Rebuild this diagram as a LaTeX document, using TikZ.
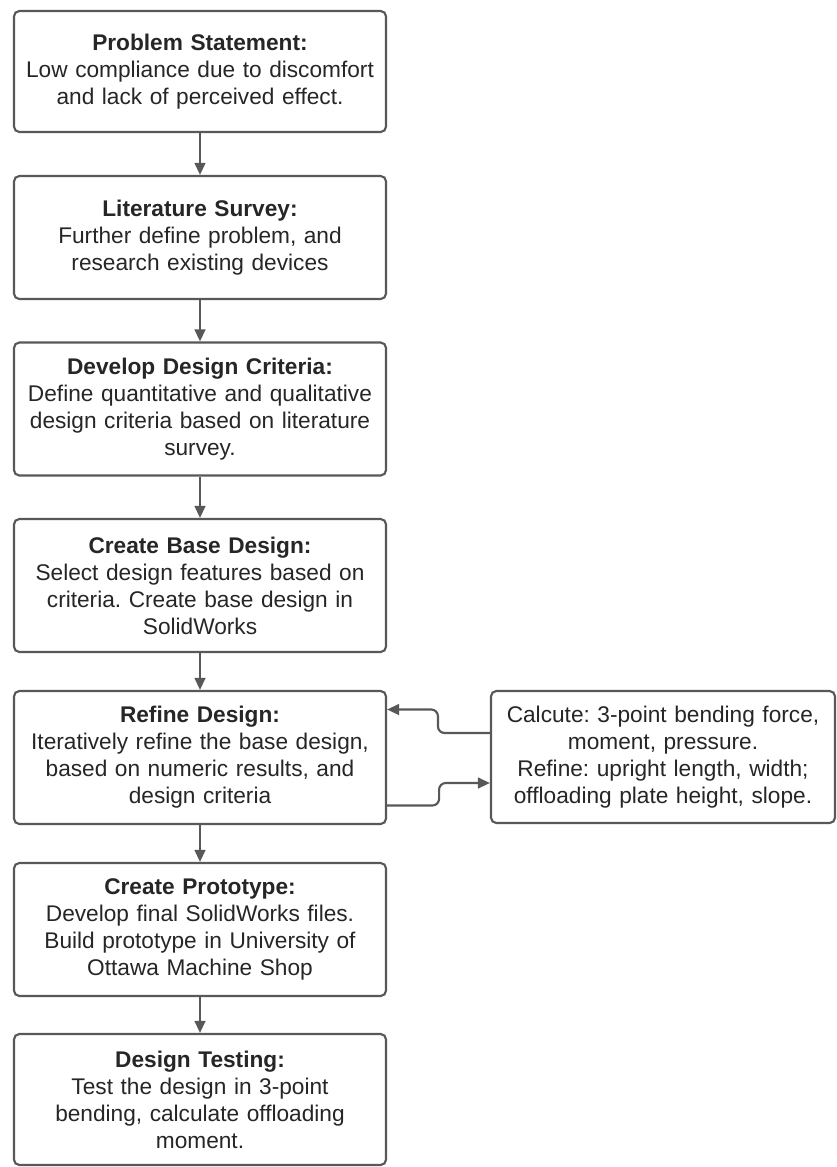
\documentclass[tikz,border=0pt]{standalone}
\usepackage{fontspec}
\setmainfont{Liberation Sans}
\usetikzlibrary{arrows.meta}
\definecolor{edge}{RGB}{88, 88, 88}
\definecolor{ink}{RGB}{38, 38, 38}
\frenchspacing

\begin{document}
\begin{tikzpicture}[x=0.75pt, y=-0.75pt,
  stage/.style={draw=edge, line width=1.6pt, rounded corners=4pt, fill=white, text=ink,
    align=center, text width=270pt, inner sep=0pt, minimum width=279pt, minimum height=99.75pt,
    font=\fontsize{17}{20.25}\selectfont},
  link/.style={draw=edge, line width=1.6pt, -{Triangle[width=8pt, length=9pt]}}]

  \useasboundingbox (0, 0) rectangle (836, 1167);

  \node[stage, minimum height=90.75pt] (problem) at (200, 71.5)
    {\textbf{Problem Statement:}\\Low compliance due to discomfort\\and lack of perceived effect.};
  \node[stage, minimum height=92.25pt] (survey) at (200, 237.5)
    {\textbf{Literature Survey:}\\Further define problem, and\\research existing devices};
  \node[stage] (criteria) at (200, 409)
    {\textbf{Develop Design Criteria:}\\Define quantitative and qualitative\\design criteria based on literature\\survey.};
  \node[stage] (base) at (200, 585.5)
    {\textbf{Create Base Design:}\\Select design features based on\\criteria. Create base design in\\SolidWorks};
  \node[stage] (refine) at (200, 757.5)
    {\textbf{Refine Design:}\\Iteratively refine the base design,\\based on numeric results, and\\design criteria};
  \node[stage] (prototype) at (200, 929.5)
    {\textbf{Create Prototype:}\\Develop final SolidWorks files.\\Build prototype in University of\\Ottawa Machine Shop};
  \node[stage, minimum height=98.25pt] (testing) at (200, 1099.5)
    {\textbf{Design Testing:}\\Test the design in 3-point\\bending, calculate offloading\\moment.};
  \node[stage, text width=250pt, minimum width=258pt, minimum height=99pt] (calc) at (663, 757)
    {Calcute: 3-point bending force,\\moment, pressure.\\Refine: upright length, width;\\offloading plate height, slope.};

  \draw[link] (problem) -- (survey);
  \draw[link] (survey) -- (criteria);
  \draw[link] (criteria) -- (base);
  \draw[link] (base) -- (refine);
  \draw[link] (refine) -- (prototype);
  \draw[link] (prototype) -- (testing);

  \draw[link, rounded corners=5pt] ([yshift=18pt]calc.west) -- ++(-52, 0) |- ([yshift=36pt]refine.east);
  \draw[link, rounded corners=5pt] ([yshift=-36pt]refine.east) -- ++(52, 0) |- ([yshift=-19.5pt]calc.west);
\end{tikzpicture}
\end{document}
